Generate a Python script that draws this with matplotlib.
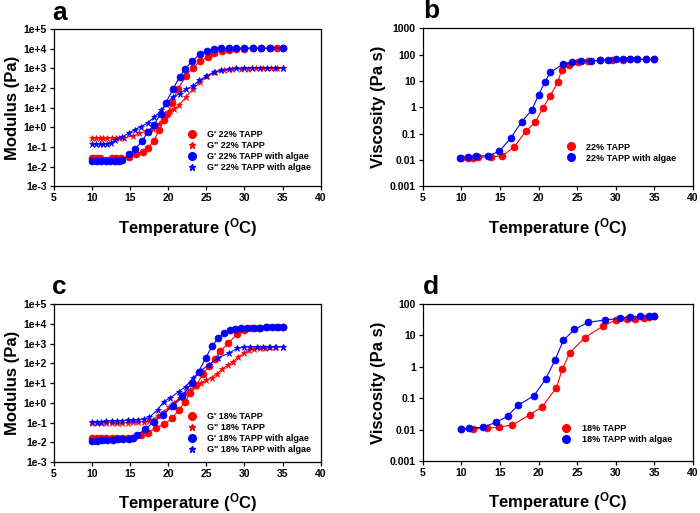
"""
Rheology of TAPP gels with and without algae: modulus and viscosity vs temperature.
Writes out.png.
"""
import matplotlib
matplotlib.use("Agg")
import matplotlib.pyplot as plt
from matplotlib.lines import Line2D
from matplotlib.ticker import FixedLocator, FixedFormatter, NullLocator

plt.rcParams["font.family"] = ["Liberation Sans", "DejaVu Sans"]
plt.rcParams["font.weight"] = "bold"
plt.rcParams["mathtext.fontset"] = "custom"
plt.rcParams["mathtext.rm"] = "Liberation Sans:bold"
plt.rcParams["mathtext.default"] = "rm"

RED = "#ff0000"
BLUE = "#0000ff"

# ---- panel a: 22% TAPP, modulus ----
a_gp_T = [10.0, 10.5, 11.0, 12.6, 13.1, 13.8, 14.9, 15.8, 16.7, 17.4, 18.1, 18.8, 19.4, 19.9, 20.5,
          21.3, 22.3, 23.2, 24.2, 25.2, 26.0, 27.0, 28.0, 28.9, 30.0, 31.1, 32.2, 33.3, 34.3, 35.0]
a_gp = [0.029, 0.029, 0.029, 0.029, 0.029, 0.029, 0.031, 0.043, 0.056, 0.093, 0.20, 0.72, 2.3, 5.0, 18,
        95, 400, 1070, 2350, 3900, 6200, 7600, 8500, 9600, 10300, 10500, 10500, 10500, 10500, 10500]
a_gpp_T = [10.0, 10.5, 11.0, 11.5, 12.0, 12.6, 13.1, 13.6, 14.2, 15.4, 16.2, 17.1, 18.0, 18.75, 19.6, 20.2,
           20.8, 21.4, 22.3, 23.3, 24.2, 25.1, 26.2, 27.3, 28.4, 29.5, 30.5, 31.5, 32.5, 33.5, 34.3, 35.0]
a_gpp = [0.29, 0.29, 0.29, 0.29, 0.29, 0.29, 0.29, 0.29, 0.30, 0.37, 0.49, 0.63, 0.87, 1.4, 4.0, 7.0,
         9.0, 13, 35, 90, 210, 410, 630, 790, 900, 950, 980, 1000, 1000, 1000, 1000, 1000]
a_gp_alg_T = [10.0, 10.6, 11.2, 11.8, 12.4, 13.0, 13.5, 14.0, 14.9, 15.65, 16.6, 17.3, 18.1, 19.0, 19.7,
              20.6, 21.5, 22.2, 23.1, 24.2, 25.1, 26.0, 26.9, 28.0, 28.9, 30.0, 31.1, 32.2, 33.3, 35.0]
a_gp_alg = [0.019, 0.019, 0.019, 0.019, 0.019, 0.019, 0.02, 0.022, 0.042, 0.078, 0.20, 0.59, 1.3, 4.7, 18,
            85, 375, 900, 2400, 5300, 8200, 10000, 10500, 11000, 11000, 11000, 11000, 11000, 11000, 11000]
a_gpp_alg_T = [10.0, 10.5, 11.0, 11.5, 12.0, 12.5, 13.0, 14.0, 14.9, 15.6, 16.4, 17.3, 18.2, 19.1, 19.7,
               20.6, 21.5, 22.3, 23.2, 24.1, 25.0, 26.0, 26.9, 28.0, 28.9, 30.0, 31.0, 32.0, 33.0, 34.0, 35.0]
a_gpp_alg = [0.14, 0.14, 0.14, 0.145, 0.15, 0.16, 0.22, 0.33, 0.52, 0.77, 1.07, 1.7, 3.4, 7.4, 16,
             35, 52, 85, 125, 250, 400, 670, 820, 910, 1000, 1050, 1100, 1100, 1100, 1100, 1120]

# ---- panel b: 22% TAPP, viscosity ----
b_T = [10.0, 10.9, 11.5, 12.2, 13.8, 15.3, 16.8, 18.35, 19.56, 20.6, 21.5, 22.5, 23.0, 23.9, 25.1, 26.4,
       27.9, 29.5, 30.9, 31.9, 32.8, 33.9, 35.0]
b_visc = [0.012, 0.012, 0.012, 0.0125, 0.013, 0.0142, 0.030, 0.123, 0.27, 0.97, 2.7, 9.2, 27, 41, 50, 56,
          60, 63, 64, 65, 65, 65, 65]
b_alg_T = [9.8, 10.8, 11.9, 13.5, 14.9, 16.4, 17.8, 19.1, 20.0, 20.8, 21.5, 23.1, 24.3, 25.5, 26.8, 28.0,
           29.0, 30.0, 30.9, 31.9, 32.8, 33.9, 35.0]
b_visc_alg = [0.012, 0.0126, 0.0138, 0.0146, 0.021, 0.068, 0.28, 0.77, 2.9, 8.9, 21, 42, 52, 56, 58, 60,
              62, 65, 66, 66, 66, 66, 66]

# ---- panel c: 18% TAPP, modulus ----
c_gp_T = [10.0, 10.6, 11.2, 11.9, 12.6, 13.3, 14.0, 14.7, 15.4, 16.4, 17.3, 18.35, 19.5, 20.5, 21.4,
          22.2, 22.9, 23.7, 24.6, 25.4, 26.1, 26.8, 27.9, 29.0, 30.0, 30.85, 31.9, 33.0, 34.1, 35.0]
c_gp = [0.017, 0.017, 0.017, 0.017, 0.017, 0.017, 0.017, 0.017, 0.017, 0.023, 0.031, 0.051, 0.081, 0.16,
        0.43, 1.15, 3.0, 8.0, 30, 75, 160, 400, 1040, 2900, 5000, 5800, 6400, 6600, 6700, 6700]
c_gpp_T = [10.0, 10.6, 11.2, 11.9, 12.6, 13.3, 14.0, 14.7, 15.4, 16.1, 16.8, 17.5, 18.0, 18.7, 19.4, 20.1,
           20.8, 21.5, 22.2, 22.9, 23.6, 24.3, 25.0, 25.7, 26.4, 27.1, 27.8, 28.5, 29.2, 29.9, 30.6, 31.3,
           32.0, 32.7, 33.4, 34.1, 35.0]
c_gpp = [0.10, 0.10, 0.10, 0.10, 0.10, 0.10, 0.10, 0.10, 0.105, 0.11, 0.11, 0.115, 0.14, 0.22, 0.35, 0.6,
         1.0, 1.8, 3.0, 4.5, 7.0, 10, 14, 18, 30, 50, 80, 120, 200, 320, 450, 550,
         600, 620, 640, 650, 660]
c_gp_alg_T = [10.0, 10.6, 11.3, 12.0, 12.7, 13.4, 14.1, 14.8, 15.4, 15.95, 16.95, 18.1, 19.3, 20.6, 21.85,
              23.1, 24.0, 24.9, 25.8, 26.6, 27.3, 28.05, 28.8, 29.6, 30.4, 31.2, 32.0, 32.8, 33.6, 34.4, 35.0]
c_gp_alg = [0.012, 0.012, 0.013, 0.013, 0.013, 0.014, 0.014, 0.015, 0.017, 0.023, 0.045, 0.11, 0.25, 0.7,
            2.2, 9.8, 38, 180, 790, 1900, 3400, 4600, 5400, 5900, 6200, 6300, 6400, 6500, 6500, 6500, 6500]
c_gpp_alg_T = [10.0, 10.6, 11.2, 11.9, 12.6, 13.3, 14.0, 14.7, 15.4, 16.1, 16.8, 17.5, 18.6, 19.4, 20.3,
               21.4, 22.3, 23.2, 24.25, 25.3, 26.6, 27.95, 29.05, 30.0, 30.8, 31.6, 32.4, 33.2, 34.0, 35.0]
c_gpp_alg = [0.105, 0.11, 0.11, 0.115, 0.12, 0.12, 0.125, 0.13, 0.13, 0.14, 0.15, 0.18, 0.43, 1.15, 1.8,
             3.7, 6.6, 17, 41, 83, 195, 320, 560, 650, 680, 690, 690, 690, 690, 700]

# ---- panel d: 18% TAPP, viscosity ----
d_T = [10.0, 11.55, 13.3, 14.9, 16.6, 18.9, 20.4, 22.3, 23.06, 24.05, 26.0, 28.3, 30.0, 31.5, 32.5, 33.6,
       34.3, 35.0]
d_visc = [0.0105, 0.0105, 0.011, 0.012, 0.014, 0.030, 0.052, 0.21, 0.83, 2.8, 8.5, 19.5, 31, 33, 34, 37,
          39, 40]
d_alg_T = [10.0, 11.0, 12.8, 14.5, 16.0, 17.3, 19.4, 20.9, 22.15, 23.2, 24.65, 26.4, 28.6, 30.6, 31.8, 33.1,
           34.3, 35.0]
d_visc_alg = [0.0105, 0.011, 0.012, 0.017, 0.027, 0.059, 0.12, 0.40, 1.7, 6.9, 15.5, 26, 31, 35, 38, 40,
              42, 43]

MOD_TICKS = [1e-3, 1e-2, 1e-1, 1e0, 1e1, 1e2, 1e3, 1e4, 1e5]
MOD_LABELS = ["1e-3", "1e-2", "1e-1", "1e+0", "1e+1", "1e+2", "1e+3", "1e+4", "1e+5"]
VISC_TICKS = [1e-3, 1e-2, 1e-1, 1, 10, 100, 1000]
VISC_LABELS = ["0.001", "0.01", "0.1", "1", "10", "100", "1000"]
X_TICKS = [5, 10, 15, 20, 25, 30, 35, 40]

XLABEL = "Temperature ($^{O}$C)"
DOT = 5.0
STAR = 4.5


def style_axes(ax, ticks, labels, ylabel):
    ax.set_yscale("log")
    ax.set_xlim(5, 40)
    ax.set_ylim(ticks[0], ticks[-1])
    ax.set_xticks(X_TICKS)
    ax.yaxis.set_major_locator(FixedLocator(ticks))
    ax.yaxis.set_major_formatter(FixedFormatter(labels))
    ax.yaxis.set_minor_locator(NullLocator())
    ax.tick_params(direction="out", length=3, width=0.9, labelsize=7.5, pad=2,
                   top=False, right=False)
    for lab in ax.get_xticklabels() + ax.get_yticklabels():
        lab.set_fontweight("bold")
    for sp in ax.spines.values():
        sp.set_linewidth(0.9)
    ax.set_xlabel(XLABEL, fontsize=12, fontweight="bold", labelpad=9)
    ax.set_ylabel(ylabel, fontsize=12, fontweight="bold", labelpad=3)


def series(ax, x, y, color, marker, ms):
    ax.plot(x, y, color=color, lw=0.8, marker=marker, ms=ms, mec=color, mfc=color, mew=0.5)


def legend(ax, entries, anchor):
    handles = [Line2D([], [], color=c, marker=m, ls="none", ms=ms * 1.1, mec=c, mfc=c)
               for (_, c, m, ms) in entries]
    ax.legend(handles, [e[0] for e in entries], loc="lower left", bbox_to_anchor=anchor,
              frameon=False, handlelength=1.0, handletextpad=1.2,
              labelspacing=0.22, borderpad=0, borderaxespad=0,
              prop={"weight": "bold", "size": 6.5})


def modulus_panel(ax, gp_T, gp, gpp_T, gpp, gpa_T, gpa, gppa_T, gppa, pct, anchor):
    series(ax, gpp_T, gpp, RED, "*", STAR)
    series(ax, gp_T, gp, RED, "o", DOT)
    series(ax, gppa_T, gppa, BLUE, "*", STAR)
    series(ax, gpa_T, gpa, BLUE, "o", DOT)
    style_axes(ax, MOD_TICKS, MOD_LABELS, "Modulus (Pa)")
    legend(ax, [(f"G' {pct} TAPP", RED, "o", DOT),
                (f"G\" {pct} TAPP", RED, "*", STAR),
                (f"G' {pct} TAPP with algae", BLUE, "o", DOT),
                (f"G\" {pct} TAPP with algae", BLUE, "*", STAR)], anchor)


def viscosity_panel(ax, T, v, Ta, va, ticks, labels, pct, anchor):
    series(ax, T, v, RED, "o", DOT)
    series(ax, Ta, va, BLUE, "o", DOT)
    style_axes(ax, ticks, labels, "Viscosity (Pa s)")
    legend(ax, [(f"{pct} TAPP", RED, "o", DOT),
                (f"{pct} TAPP with algae", BLUE, "o", DOT)], anchor)


def main():
    fig = plt.figure(figsize=(7.0, 5.13), dpi=100)
    ax_a = fig.add_axes([0.077, 0.637, 0.381, 0.306])
    ax_b = fig.add_axes([0.604, 0.637, 0.386, 0.308])
    ax_c = fig.add_axes([0.077, 0.0994, 0.381, 0.308])
    ax_d = fig.add_axes([0.604, 0.1014, 0.386, 0.306])

    modulus_panel(ax_a, a_gp_T, a_gp, a_gpp_T, a_gpp, a_gp_alg_T, a_gp_alg,
                  a_gpp_alg_T, a_gpp_alg, "22%", (0.50, 0.09))
    viscosity_panel(ax_b, b_T, b_visc, b_alg_T, b_visc_alg, VISC_TICKS, VISC_LABELS,
                    "22%", (0.53, 0.15))
    modulus_panel(ax_c, c_gp_T, c_gp, c_gpp_T, c_gpp, c_gp_alg_T, c_gp_alg,
                  c_gpp_alg_T, c_gpp_alg, "18%", (0.50, 0.05))
    viscosity_panel(ax_d, d_T, d_visc, d_alg_T, d_visc_alg, VISC_TICKS[:-1], VISC_LABELS[:-1],
                    "18%", (0.515, 0.11))

    # panel letters
    for x, y, s in [(0.074, 0.961, "a"), (0.604, 0.964, "b"), (0.074, 0.427, "c"), (0.604, 0.427, "d")]:
        fig.text(x, y, s, fontsize=19, fontweight="bold", va="baseline", ha="left")

    fig.savefig("out.png", dpi=100)
    plt.close(fig)


if __name__ == "__main__":
    main()
